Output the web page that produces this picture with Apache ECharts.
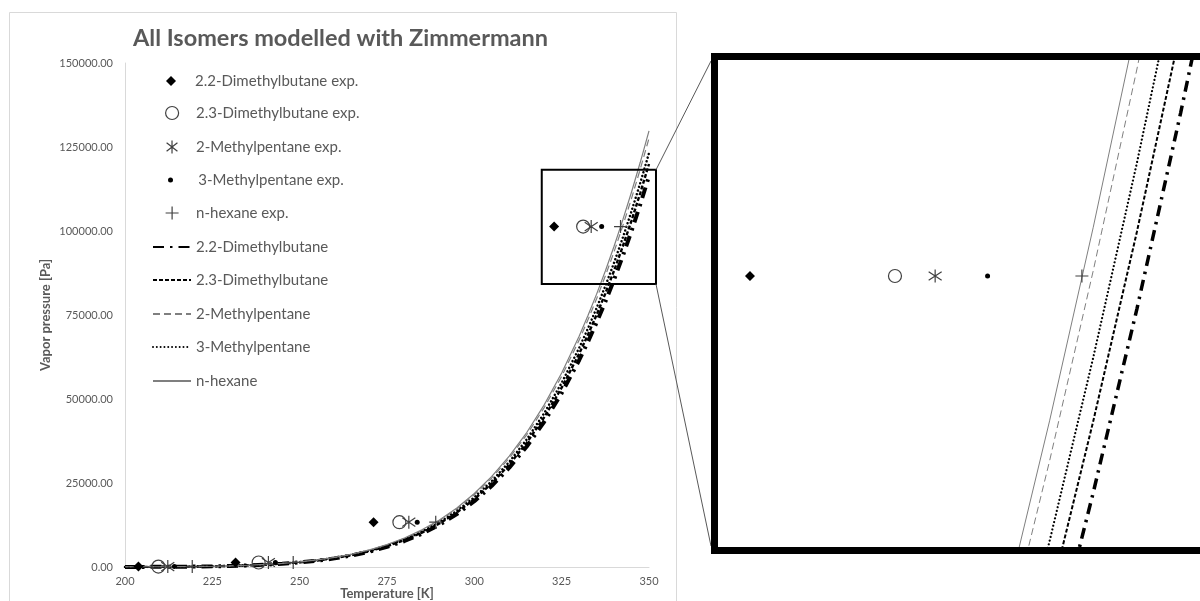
<!DOCTYPE html>
<html><head><meta charset="utf-8">
<script src="https://cdn.jsdelivr.net/npm/echarts@6/dist/echarts.min.js"></script>
<style>html,body{margin:0;padding:0;background:#fff}#c{width:1200px;height:601px}</style>
</head><body><div id="c"></div>
<script>
const FONT = 'Lato, "Liberation Sans", sans-serif';

// ---- axis ticks ----
const xTicks = [200, 225, 250, 275, 300, 325, 350];
const yTicks = [0, 25000, 50000, 75000, 100000, 125000, 150000];

// ---- model curves (Zimmermann), temperature [K] / vapour pressure [Pa] ----
const modelT = [200,205,210,215,220,225,230,235,240,245,250,255,260,265,270,275,280,285,290,295,300,305,310,315,320,325,330,332.5,335,337.5,340,342.5,345,347.5,350];
const modelHexane = [18,32,55,91,145,227,346,517,754,1080,1520,2103,2865,3849,5101,6680,8641,11062,14013,17585,21865,26958,32984,40023,48250,57742,68688,74749,81207,88107,95459,103299,111604,120450,129810];
const model2MP = [18,31,54,89,143,223,340,508,741,1062,1494,2067,2816,3784,5014,6566,8494,10874,13775,17286,21493,26500,32423,39343,47430,56760,67520,73478,79827,86609,93836,101543,109707,118402,127603];
const model3MP = [17,30,52,86,138,215,328,491,716,1025,1442,1996,2719,3653,4841,6339,8200,10498,13298,16688,20750,25583,31302,37982,45789,54797,65185,70937,77065,83614,90591,98031,105912,114307,123190];
const model23DMB = [17,30,51,84,134,210,320,478,697,998,1404,1943,2647,3556,4713,6172,7984,10221,12948,16249,20203,24909,30477,36981,44583,53354,63468,69068,75035,81411,88204,95448,103122,111296,119944];
const model22DMB = [16,29,49,82,130,203,310,463,676,968,1362,1884,2567,3449,4570,5985,7742,9912,12556,15756,19591,24154,29554,35861,43232,51737,61544,66975,72761,78944,85531,92556,99997,107923,116310];

// ---- experimental points ----
const expP = [133.3, 1333.2, 13332, 101325];
const expT22DMB = [203.85, 231.65, 271.15, 322.85];
const expT23DMB = [209.55, 238.25, 278.55, 331.15];
const expT2MP = [212.25, 241.05, 281.25, 333.45];
const expT3MP = [214.15, 243.05, 283.65, 336.45];
const expTHexane = [219.25, 248.15, 288.95, 341.85];

// ---- zoom window (rectangle in main plot) and inset axis ranges ----
const zoomT = [319.3, 352.0];
const zoomP = [84200, 118200];
const insetT = [321.02, 348.61];
const insetP = [90350, 110073];

const DIAMOND = 'path://M0,-5L5,0L0,5L-5,0Z';
const ASTER = 'path://M0,-6L0,6M-5,-4L5,4M-5,4L5,-4';
const PLUS = 'path://M0,-6L0,6M-6,0L6,0';

const scatterDefs = [
  {name: '2.2-Dimethylbutane exp.', T: expT22DMB, symbol: DIAMOND, size: 10, color: '#000', border: '#000', bw: 0},
  {name: '2.3-Dimethylbutane exp.', T: expT23DMB, symbol: 'circle', size: 13, color: 'rgba(0,0,0,0)', border: '#404040', bw: 1.2},
  {name: '2-Methylpentane exp.', T: expT2MP, symbol: ASTER, size: 13, color: 'rgba(0,0,0,0)', border: '#404040', bw: 1.2},
  {name: '3-Methylpentane exp.', T: expT3MP, symbol: 'circle', size: 5, color: '#000', border: '#000', bw: 0},
  {name: 'n-hexane exp.', T: expTHexane, symbol: PLUS, size: 13, color: 'rgba(0,0,0,0)', border: '#404040', bw: 1.2}
];
const lineDefs = [
  {name: '2.2-Dimethylbutane', P: model22DMB, color: '#000', width: 3.5, mainWidth: 4, type: [11, 6, 2.5, 6], cap: 'butt'},
  {name: '2.3-Dimethylbutane', P: model23DMB, color: '#000', width: 2, mainWidth: 2.4, type: [4, 2], cap: 'butt'},
  {name: '2-Methylpentane', P: model2MP, color: '#7f7f7f', width: 1, mainWidth: 1.2, type: [7, 4], cap: 'butt'},
  {name: '3-Methylpentane', P: model3MP, color: '#000', width: 2.2, mainWidth: 2.5, type: [0.01, 3.8], cap: 'round'},
  {name: 'n-hexane', P: modelHexane, color: '#7f7f7f', width: 1, mainWidth: 1.2, type: 'solid', cap: 'butt'}
];

function buildSeries(axisIdx) {
  const out = [];
  scatterDefs.forEach(d => {
    out.push({
      type: 'scatter', name: d.name, xAxisIndex: axisIdx, yAxisIndex: axisIdx,
      data: d.T.map((t, i) => [t, expP[i]]),
      symbol: d.symbol, symbolSize: d.size, clip: true, z: 5,
      itemStyle: {color: d.color, borderColor: d.border, borderWidth: d.bw, opacity: 1},
      emphasis: {disabled: true}
    });
  });
  lineDefs.forEach(d => {
    out.push({
      type: 'line', name: d.name, xAxisIndex: axisIdx, yAxisIndex: axisIdx,
      data: modelT.map((t, i) => [t, d.P[i]]),
      showSymbol: false, symbol: 'none', clip: true, z: 3,
      lineStyle: {color: d.color, width: axisIdx === 0 ? d.mainWidth : d.width, type: d.type, cap: d.cap},
      itemStyle: {color: d.color},
      emphasis: {disabled: true}
    });
  });
  return out;
}

// legend rows (one legend component per row to control icon size)
const legendRows = [
  {name: '2.2-Dimethylbutane exp.', ih: 10, cy: 81, left: 166},
  {name: '2.3-Dimethylbutane exp.', ih: 13, cy: 113, bw: 1.2, left: 165},
  {name: '2-Methylpentane exp.', ih: 13, cy: 147, bw: 1.2, left: 166},
  {name: '3-Methylpentane exp.', ih: 5, cy: 180, lead: true, left: 168},
  {name: 'n-hexane exp.', ih: 13, cy: 213, bw: 1.2, left: 165},
  {name: '2.2-Dimethylbutane', ih: 14, cy: 247, line: true, left: 152},
  {name: '2.3-Dimethylbutane', ih: 14, cy: 280, line: true, left: 152},
  {name: '2-Methylpentane', ih: 14, cy: 314, line: true, left: 152},
  {name: '3-Methylpentane', ih: 14, cy: 347, line: true, left: 152},
  {name: 'n-hexane', ih: 14, cy: 381, line: true, left: 152}
];
const LH = 17;
const legends = legendRows.map(r => {
  const boxH = Math.max(r.ih, LH);
  const lg = {
    data: [r.name], orient: 'vertical', left: r.left, top: r.cy - boxH / 2, padding: 0,
    itemWidth: 38, itemHeight: r.ih, itemGap: 0, selectedMode: false, symbolKeepAspect: true,
    textStyle: {color: '#595959', fontSize: 15, fontFamily: FONT, lineHeight: LH},
    formatter: r.lead ? (n => ' ' + n) : '{name}'
  };
  if (r.bw) lg.itemStyle = {borderWidth: r.bw};
  if (r.line) lg.itemStyle = {opacity: 0, borderWidth: 0};
  return lg;
});

const chart = echarts.init(document.getElementById('c'), null, {renderer: 'canvas'});
const axisLabelStyle = {color: '#595959', fontSize: 11, fontFamily: FONT};
chart.setOption({
  animation: false,
  backgroundColor: '#fff',
  title: {
    text: 'All Isomers modelled with Zimmermann', left: 133, top: 26, padding: 0,
    textStyle: {color: '#595959', fontSize: 23.5, fontWeight: 'bold', fontFamily: FONT}
  },
  legend: legends,
  grid: [
    {left: 125, top: 63, width: 524, height: 504, containLabel: false, outerBoundsMode: 'none'},
    {left: 718, top: 60, right: 0, height: 487, containLabel: false, outerBoundsMode: 'none'}
  ],
  xAxis: [
    {
      type: 'value', gridIndex: 0, min: xTicks[0], max: xTicks[xTicks.length - 1], interval: xTicks[1] - xTicks[0],
      axisLine: {show: true, lineStyle: {color: '#d9d9d9', width: 1}}, axisTick: {show: false}, splitLine: {show: false},
      axisLabel: Object.assign({margin: 9}, axisLabelStyle),
      name: 'Temperature [K]', nameLocation: 'middle', nameGap: 20, nameMoveOverlap: false,
      nameTextStyle: {color: '#595959', fontSize: 13, fontWeight: 'bold', fontFamily: FONT}
    },
    {type: 'value', gridIndex: 1, min: insetT[0], max: insetT[1], show: false, splitLine: {show: false}}
  ],
  yAxis: [
    {
      type: 'value', gridIndex: 0, min: yTicks[0], max: yTicks[yTicks.length - 1], interval: yTicks[1] - yTicks[0],
      axisLine: {show: true, lineStyle: {color: '#d9d9d9', width: 1}}, axisTick: {show: false}, splitLine: {show: false},
      axisLabel: Object.assign({margin: 12, formatter: v => v.toFixed(2)}, axisLabelStyle),
      name: 'Vapor pressure [Pa]', nameLocation: 'middle', nameGap: 73, nameRotate: 90, nameMoveOverlap: false,
      nameTextStyle: {color: '#595959', fontSize: 13, fontWeight: 'bold', fontFamily: FONT}
    },
    {type: 'value', gridIndex: 1, min: insetP[0], max: insetP[1], show: false, splitLine: {show: false}}
  ],
  series: buildSeries(0).concat(buildSeries(1))
});

// zoom rectangle, inset frame and connector lines placed through the axes' scales
const rTL = chart.convertToPixel({xAxisIndex: 0, yAxisIndex: 0}, [zoomT[0], zoomP[1]]);
const rBR = chart.convertToPixel({xAxisIndex: 0, yAxisIndex: 0}, [zoomT[1], zoomP[0]]);
const iTL = chart.convertToPixel({xAxisIndex: 1, yAxisIndex: 1}, [insetT[0], insetP[1]]);
const iBR = chart.convertToPixel({xAxisIndex: 1, yAxisIndex: 1}, [insetT[1], insetP[0]]);
const bw = 7;
chart.setOption({
  graphic: [
    {type: 'rect', silent: true, z: 0, shape: {x: 9.5, y: 12.5, width: 667, height: 600},
     style: {fill: 'none', stroke: '#d9d9d9', lineWidth: 1}},
    {type: 'rect', silent: true, z: 50, shape: {x: rTL[0], y: rTL[1], width: rBR[0] - rTL[0], height: rBR[1] - rTL[1]},
     style: {fill: 'none', stroke: '#000', lineWidth: 2}},
    {type: 'line', silent: true, z: 50, shape: {x1: rBR[0], y1: rTL[1], x2: iTL[0] - bw, y2: iTL[1] + 1},
     style: {stroke: '#595959', lineWidth: 1}},
    {type: 'line', silent: true, z: 50, shape: {x1: rBR[0], y1: rBR[1], x2: iTL[0] - bw, y2: iBR[1] - 1},
     style: {stroke: '#595959', lineWidth: 1}},
    {type: 'rect', silent: true, z: 50, shape: {x: iTL[0] - bw / 2, y: iTL[1] - bw / 2, width: 700, height: iBR[1] - iTL[1] + bw},
     style: {fill: 'none', stroke: '#000', lineWidth: bw}}
  ]
});
</script>
</body></html>
